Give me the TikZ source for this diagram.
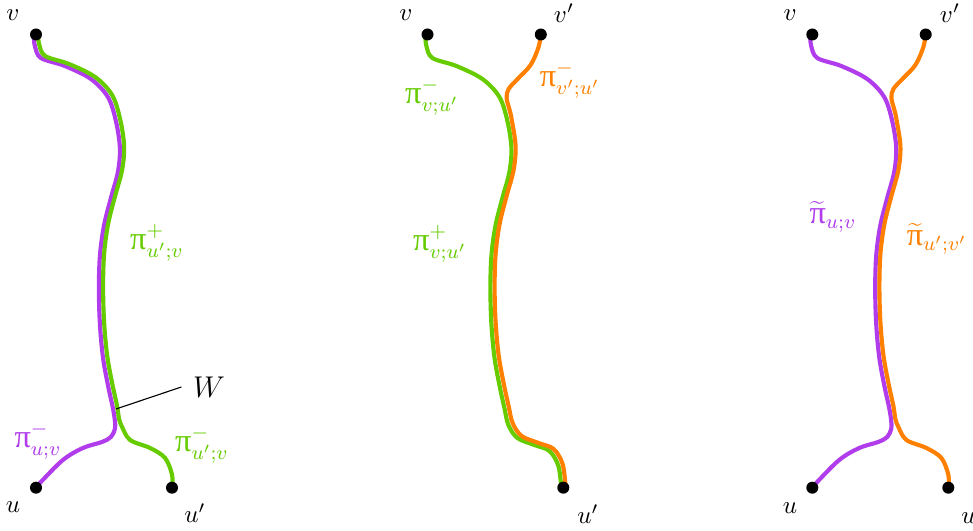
\documentclass[tikz,border=0pt]{standalone}
\usepackage{fontspec}
\newfontfamily\grk[Scale=1.08]{Liberation Serif}
\newcommand\gpi{\mbox{\grk π}}
\newcommand\gpih{{\gpi\vphantom{l}}}
\definecolor{cpur}{RGB}{176,60,235}
\definecolor{cgrn}{RGB}{102,204,0}
\definecolor{corg}{RGB}{255,128,0}
\begin{document}
\begin{tikzpicture}[x=0.4pt,y=-0.4pt,
  pathline/.style={line width=1.65pt, line cap=round},
  dot/.style={circle,fill=black,inner sep=0pt,minimum size=4.8pt},
  lbl/.style={inner sep=0pt},
  plbl/.style={inner sep=0pt,font=\large}]
\useasboundingbox (0,0) rectangle (973,531);

% ---------------- left panel ----------------
\draw[pathline,cpur,shift={(-2.1,1)}] plot[smooth,tension=0.55] coordinates {
 (36,35) (37,45) (43,57) (67,65) (93,78) (110,96) (118,120) (122,147) (120,171)
 (113,197) (106,225) (102,255) (101,288) (102,323) (105,356) (110,384) (115,407)
 (117,420) (117,428) (113,436) (104,441) (85,447) (65,459) (42,482) (38,487)};
\draw[pathline,cgrn,shift={(2.1,-1)}] plot[smooth,tension=0.55] coordinates {
 (36,35) (37,45) (43,57) (67,65) (93,78) (110,96) (118,120) (122,147) (120,171)
 (113,197) (106,225) (102,255) (101,288) (102,323) (105,356) (110,384) (115,407)
 (117,420) (120,428) (128,441) (148,449) (163,459) (170,476) (170,489)};
\node[dot] (Lv) at (36,34.5) {};
\node[dot] (Lu) at (36,487.7) {};
\node[dot] (Lup) at (172,487.7) {};
\node[lbl] (Lvl) at (13,15) {$v$};
\node[lbl] (Lul) at (13,507) {$u$};
\node[lbl] (Lupl) at (195,513) {$u'$};
\node[plbl,text=cgrn] (Lpp) at (157,243) {$\gpih^{+}_{u';v}$};
\node[plbl,text=cpur] (Lpm) at (38,441) {$\gpih^{-}_{u;v}$};
\node[plbl,text=cgrn] (Lpmp) at (202,445) {$\gpih^{-}_{u';v}$};
\node[lbl,font=\large] (W) at (209,387) {$W$};
\coordinate (Wp) at (116,409);
\draw[black,line width=0.45pt] (Wp) -- ([xshift=-4.5pt]W.west);

% ---------------- middle panel ----------------
\begin{scope}[shift={(391.5,0)}]
\draw[pathline,cgrn,shift={(-2.1,1)}] plot[smooth,tension=0.55] coordinates {
 (36,35) (37,45) (43,57) (67,65) (93,78) (110,96) (118,120) (122,147) (120,171)
 (113,197) (106,225) (102,255) (101,288) (102,323) (105,356) (110,384) (115,407)
 (119,424) (128,437) (145,444) (160,450) (169,465) (172,488)};
\draw[pathline,corg,shift={(2.1,-1)}] plot[smooth,tension=0.55] coordinates {
 (147,36) (145,48) (137,66) (124,80) (115,90) (113,99) (116,111) (118,120) (122,147) (120,171)
 (113,197) (106,225) (102,255) (101,288) (102,323) (105,356) (110,384) (115,407)
 (119,424) (128,437) (145,444) (160,450) (169,465) (172,488)};
\end{scope}
\node[dot] (Mv) at (427.5,34.5) {};
\node[dot] (Mvp) at (540.8,34.5) {};
\node[dot] (Mup) at (563.3,487.7) {};
\node[lbl] (Mvl) at (406,15) {$v$};
\node[lbl] (Mvpl) at (564,13) {$v'$};
\node[lbl] (Mupl) at (588,514) {$u'$};
\node[plbl,text=cgrn] (Mpm) at (432,97) {$\gpih^{-}_{v;u'}$};
\node[plbl,text=corg] (Mpmp) at (570,80) {$\gpih^{-}_{v';u'}$};
\node[plbl,text=cgrn] (Mpp) at (440,244) {$\gpih^{+}_{v;u'}$};

% ---------------- right panel ----------------
\begin{scope}[shift={(776.3,0)}]
\draw[pathline,cpur,shift={(-2.1,1)}] plot[smooth,tension=0.55] coordinates {
 (36,35) (37,45) (43,57) (67,65) (93,78) (110,96) (118,120) (122,147) (120,171)
 (113,197) (106,225) (102,255) (101,288) (102,323) (105,356) (110,384) (115,407)
 (117,420) (117,428) (113,436) (104,441) (85,447) (65,459) (42,482) (38,487)};
\draw[pathline,corg,shift={(2.1,-1)}] plot[smooth,tension=0.55] coordinates {
 (147,36) (145,48) (137,66) (124,80) (115,90) (113,99) (116,111) (118,120) (122,147) (120,171)
 (113,197) (106,225) (102,255) (101,288) (102,323) (105,356) (110,384) (115,407)
 (117,420) (120,428) (128,441) (148,449) (163,459) (170,476) (170,489)};
\end{scope}
\node[dot] (Rv) at (812.3,34.5) {};
\node[dot] (Rvp) at (925.7,34.5) {};
\node[dot] (Ru) at (812.3,487.7) {};
\node[dot] (Rup) at (948.3,487.7) {};
\node[lbl] (Rvl) at (790,15) {$v$};
\node[lbl] (Rvpl) at (950,13) {$v'$};
\node[lbl] (Rul) at (790,508) {$u$};
\node[lbl] (Rupl) at (972,514) {$u'$};
\node[plbl,text=cpur] (Rpt) at (833,217) {$\widetilde{\gpi}_{u;v}$};
\node[plbl,text=corg] (Rptp) at (937,239) {$\widetilde{\gpi}_{u';v'}$};
\end{tikzpicture}
\end{document}
